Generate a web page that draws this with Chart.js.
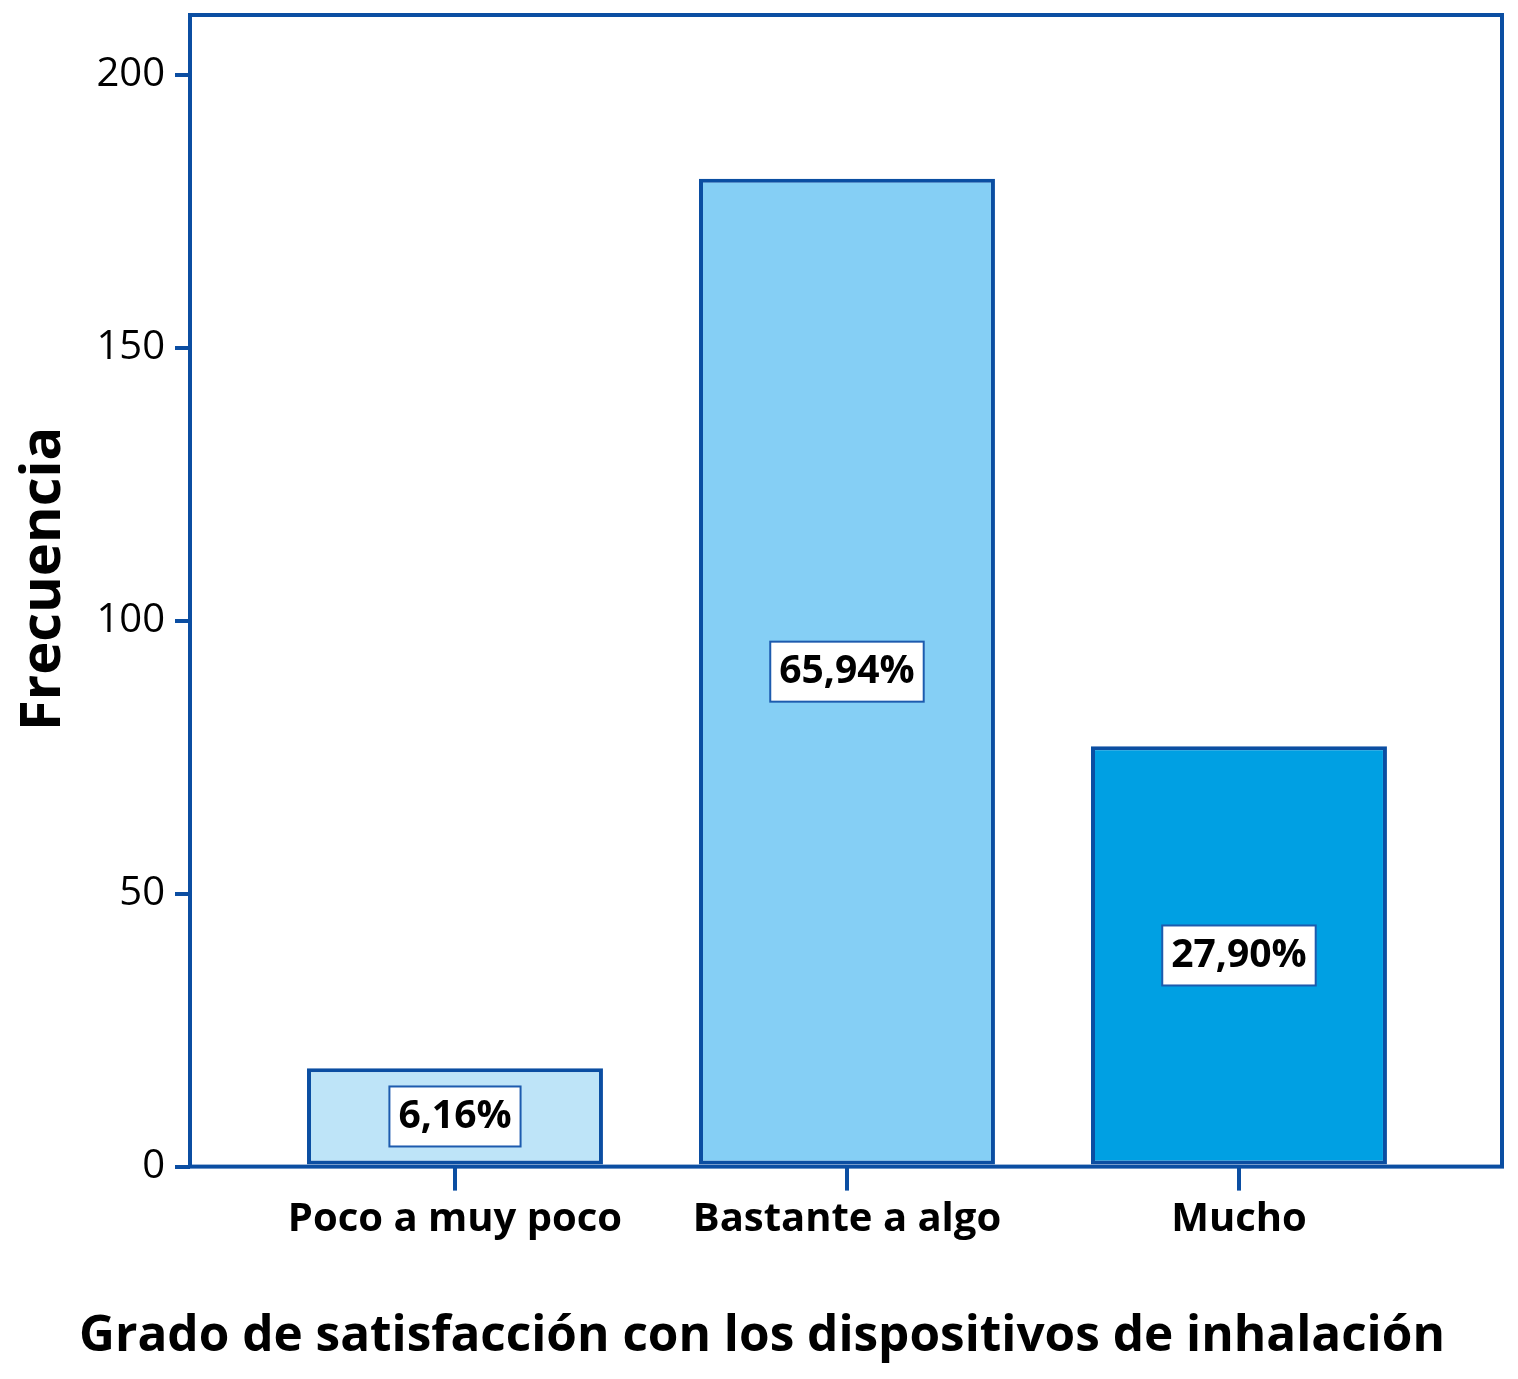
<!DOCTYPE html>
<html>
<head>
<meta charset="utf-8">
<script src="https://cdn.jsdelivr.net/npm/chart.js@4.4.1/dist/chart.umd.min.js"></script>
<style>
  html, body { margin: 0; padding: 0; background: #fff; }
  #wrap { width: 1518px; height: 1379px; }
</style>
</head>
<body>
<div id="wrap"><canvas id="chart"></canvas></div>
<script>
// Data
const categories = ['Poco a muy poco', 'Bastante a algo', 'Mucho'];
const frequencies = [18, 181, 77];
const percentLabels = ['6,16%', '65,94%', '27,90%'];
const yTicks = [0, 50, 100, 150, 200];
const xTitle = 'Grado de satisfacción con los dispositivos de inhalación';
const yTitle = 'Frecuencia';

// Styles
const barColors = ['#BEE4F8', '#85CFF5', '#00A0E3'];
const axisBlue = '#0B4EA2';
const fontFamily = '"Open Sans", "Noto Sans", sans-serif';

// Frame round the plot area (all four sides)
const framePlugin = {
    id: 'frame',
    beforeDatasetsDraw(chart) {
        const { ctx, chartArea: a } = chart;
        ctx.save();
        ctx.strokeStyle = axisBlue;
        ctx.lineWidth = 4;
        ctx.strokeRect(a.left, a.top, a.right - a.left, a.bottom - a.top);
        ctx.restore();
    }
};

// Vertical axis title, sitting a little above the middle of the plot like the original
const yTitlePlugin = {
    id: 'yTitle',
    afterDraw(chart) {
        const { ctx, chartArea: a } = chart;
        ctx.save();
        ctx.translate(44, (a.top + a.bottom) / 2 - 12);
        ctx.rotate(-Math.PI / 2);
        ctx.font = 'bold 56px ' + fontFamily;
        ctx.fillStyle = '#000';
        ctx.textAlign = 'center';
        ctx.textBaseline = 'middle';
        ctx.fillText(yTitle, 0, 0);
        ctx.restore();
    }
};

// White boxes with the percentage in the middle of each bar
const percentPlugin = {
    id: 'percentBoxes',
    afterDatasetsDraw(chart) {
        const { ctx } = chart;
        const meta = chart.getDatasetMeta(0);
        ctx.save();
        ctx.font = 'bold 39px ' + fontFamily;
        ctx.textAlign = 'center';
        ctx.textBaseline = 'middle';
        meta.data.forEach((bar, i) => {
            const text = percentLabels[i];
            const w = ctx.measureText(text).width + 18;
            const h = 60;
            const cx = bar.x;
            const cy = (bar.y + bar.base) / 2;
            ctx.fillStyle = '#fff';
            ctx.fillRect(cx - w / 2, cy - h / 2, w, h);
            ctx.strokeStyle = '#1D5BAE';
            ctx.lineWidth = 2;
            ctx.strokeRect(cx - w / 2, cy - h / 2, w, h);
            ctx.fillStyle = '#000';
            ctx.fillText(text, cx, cy);
        });
        ctx.restore();
    }
};

// no extra margins from the scales: the layout padding places the plot
const noScalePadding = s => {
    s.paddingTop = 0;
    s.paddingBottom = 0;
    s.paddingLeft = 0;
    s.paddingRight = 0;
};

const ctx = document.getElementById('chart').getContext('2d');
const chart = new Chart(ctx, {
    type: 'bar',
    data: {
        datasets: [{
            data: frequencies.map((v, i) => ({ x: i, y: v })),
            backgroundColor: barColors,
            borderColor: axisBlue,
            borderWidth: 4,
            borderSkipped: false,
            categoryPercentage: 1,
            barPercentage: 0.755
        }]
    },
    options: {
        responsive: true,
        maintainAspectRatio: false,
        animation: false,
        layout: { padding: { left: 22, top: 15, right: 16, bottom: 0 } },
        plugins: {
            legend: { display: false },
            tooltip: { enabled: false },
            title: {
                display: true,
                position: 'bottom',
                text: xTitle,
                color: '#000',
                font: { family: fontFamily, size: 49.5, weight: 'bold', lineHeight: 1.2 },
                padding: { top: 0, bottom: 12 }
            }
        },
        scales: {
            x: {
                type: 'linear',
                offset: false,
                min: -0.676,
                max: 2.671,
                afterBuildTicks: s => { s.ticks = categories.map((c, i) => ({ value: i })); },
                afterFit: s => { s.height = 141; noScalePadding(s); },
                ticks: {
                    callback: v => categories[v],
                    color: '#000',
                    font: { family: fontFamily, size: 40, weight: 'bold' },
                    padding: 5,
                    autoSkip: false,
                    maxRotation: 0,
                    includeBounds: false
                },
                grid: { offset: false, drawOnChartArea: false, drawTicks: true, tickLength: 24, color: axisBlue, lineWidth: 4 },
                border: { display: false }
            },
            y: {
                min: 0,
                max: 211,
                afterBuildTicks: s => { s.ticks = yTicks.map(v => ({ value: v })); },
                afterFit: s => { s.width = 168; noScalePadding(s); },
                ticks: {
                    color: '#000',
                    font: { family: fontFamily, size: 40 },
                    padding: 10
                },
                grid: { drawOnChartArea: false, drawTicks: true, tickLength: 15, color: axisBlue, lineWidth: 4 },
                border: { display: false }
            }
        }
    },
    plugins: [framePlugin, percentPlugin, yTitlePlugin]
});
</script>
</body>
</html>
